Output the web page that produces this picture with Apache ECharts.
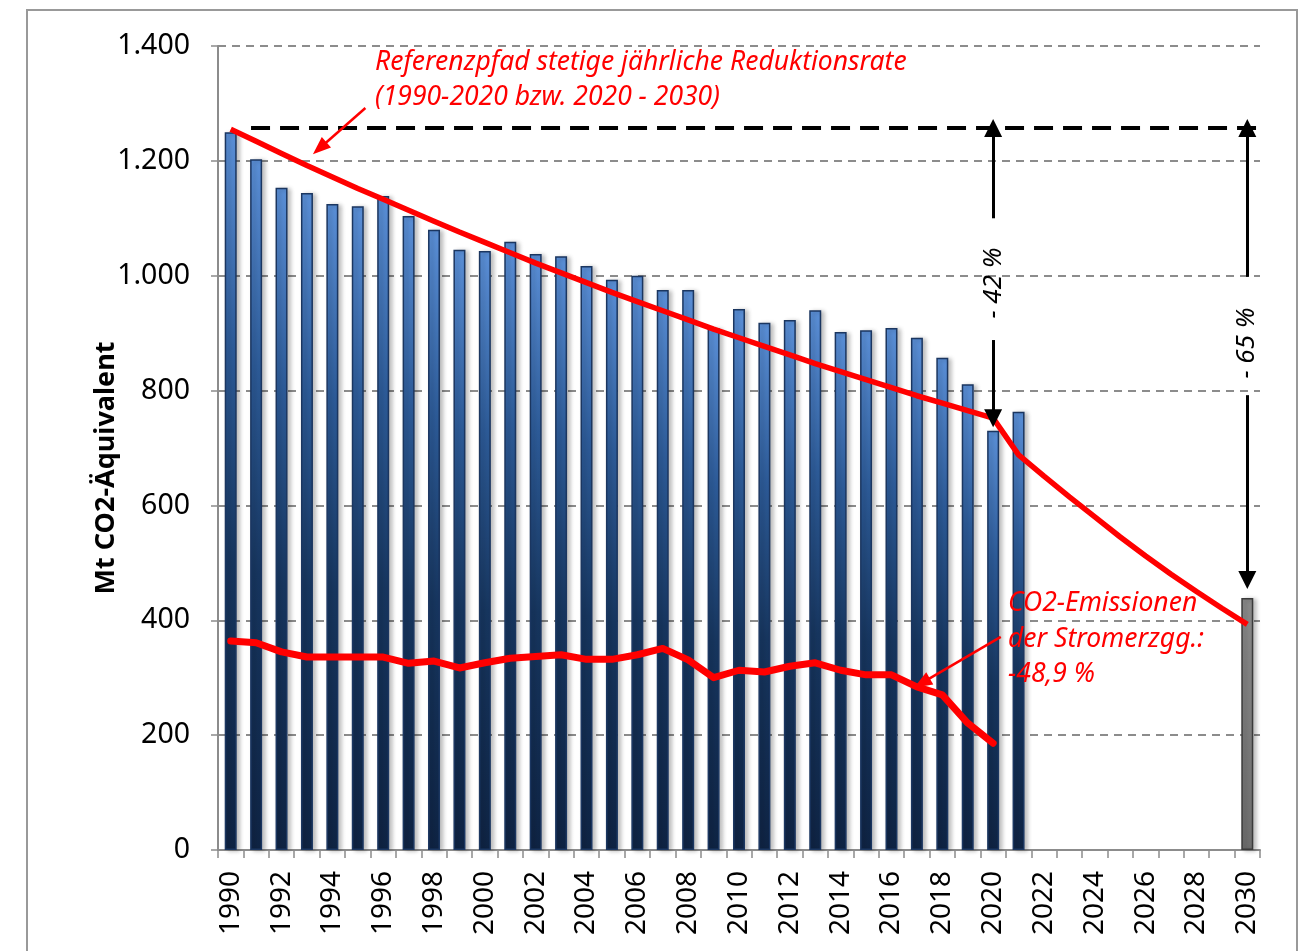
<!DOCTYPE html>
<html>
<head>
<meta charset="utf-8">
<script src="https://cdn.jsdelivr.net/npm/echarts@6/dist/echarts.min.js"></script>
<style>
html,body{margin:0;padding:0;background:#fff;}
#c{width:1307px;height:951px;}
</style>
</head>
<body>
<div id="c"></div>
<script>
// ---- data ----
const years = [];
for (let y = 1990; y <= 2030; y++) years.push(String(y));

// total emissions (Mt CO2-equivalent), 1990-2021, plus 2030 target
const emissions = [1250, 1203, 1153, 1144, 1125, 1121, 1139, 1104, 1080, 1045,
  1043, 1059, 1038, 1034, 1017, 993, 1000, 975, 975, 909,
  942, 918, 923, 940, 902, 905, 909, 892, 857, 811,
  730, 763];
const target2030 = 439;

// reference path (steady annual reduction rate), 1990-2030
const referencePath = [1255, 1234, 1213, 1192, 1172, 1152, 1133, 1114, 1095, 1076,
  1058, 1040, 1022, 1005, 988, 971, 955, 939, 923, 907,
  892, 877, 862, 847, 833, 819, 805, 791, 778, 765,
  752, 688, 651, 615, 580, 545, 512, 480, 450, 421,
  393];

// CO2 emissions of power generation, 1990-2020
const powerGen = [364, 361, 345, 336, 336, 336, 336, 325, 329, 317,
  326, 334, 337, 340, 332, 332, 340, 351, 331, 300,
  313, 310, 320, 326, 313, 305, 305, 284, 270, 221,
  186];

const yTicks = [0, 200, 400, 600, 800, 1000, 1200, 1400];
const baseLevel = 1257;

// ---- build series data ----
const barData = years.map((y, i) => {
  if (i < emissions.length) return emissions[i];
  if (y === '2030') return {
    value: target2030,
    itemStyle: {
      color: {type:'linear',x:0,y:0,x2:0,y2:1,colorStops:[{offset:0,color:'#8a8a8a'},{offset:1,color:'#6e6e6e'}]},
      borderColor: '#3a3a3a'
    }
  };
  return null;
});
const powerData = years.map((y, i) => i < powerGen.length ? powerGen[i] : null);

const chart = echarts.init(document.getElementById('c'), null, {renderer: 'canvas'});

const blk = {color:'#000', width:3, type:'solid'};
const redL = {color:'#ff0000', width:2.5, type:'solid'};
const redText = (t, x, y) => ({type: 'text', z: 100, x: x, y: y,
  style: {text: t, fontSize: 26.5, fontStyle: 'italic', fontFamily: 'Noto Sans',
    fill: '#ff0000', align: 'left', verticalAlign: 'middle'}});

chart.setOption({
  animation: false,
  backgroundColor: '#fff',
  grid: {left: 218, right: 47, top: 46, bottom: 101, containLabel: false},
  xAxis: [{
    type: 'category',
    data: years,
    boundaryGap: true,
    axisLine: {lineStyle: {color: '#8c8c8c', width: 2}},
    axisTick: {show: true, interval: 0, length: 8, lineStyle: {color: '#8c8c8c', width: 1.5}},
    axisLabel: {interval: 1, rotate: 90, margin: 21, color: '#000', fontSize: 28, fontFamily: 'Noto Sans'},
    splitLine: {show: false}
  }, {
    type: 'value', min: 1989.5, max: 2030.5, show: false
  }],
  yAxis: {
    type: 'value', min: 0, max: 1400, interval: 200,
    axisLine: {show: true, lineStyle: {color: '#8c8c8c', width: 2}},
    axisTick: {show: true, length: 7, lineStyle: {color: '#8c8c8c', width: 1.5}},
    axisLabel: {
      margin: 28, color: '#000', fontSize: 28.5, fontFamily: 'Noto Sans',
      formatter: v => String(v).replace(/\B(?=(\d{3})+(?!\d))/g, '.')
    },
    splitLine: {show: true, lineStyle: {color: '#8c8c8c', width: 2, type: [8, 6]}}
  },
  series: [{
    type: 'bar',
    data: barData,
    barWidth: 12,
    itemStyle: {
      color: {type:'linear',x:0,y:0,x2:0,y2:1,colorStops:[
        {offset:0,color:'#5b90d8'},{offset:0.3,color:'#2d5b98'},{offset:0.6,color:'#17365f'},{offset:1,color:'#0f2444'}]},
      borderColor: '#1b3660',
      borderWidth: 1.5,
      shadowColor: 'rgba(0,0,0,0.25)',
      shadowBlur: 4,
      shadowOffsetX: 3,
      shadowOffsetY: 1
    },
    z: 2
  }, {
    type: 'line',
    data: referencePath,
    symbol: 'none',
    lineStyle: {color: '#ff0000', width: 5.5},
    z: 4
  }, {
    type: 'line',
    data: powerData,
    symbol: 'none',
    lineStyle: {color: '#ff0000', width: 7, cap: 'round', join: 'round'},
    z: 4
  }, {
    type: 'scatter',
    xAxisIndex: 1,
    data: [[2000, -100]],
    symbolSize: 0,
    silent: true,
    z: 5,
    markLine: {
      silent: true,
      animation: false,
      label: {show: false},
      symbolSize: [18, 18],
      data: [
        [{coord: [1990.8, baseLevel], symbol: 'none', lineStyle: {color:'#000', width:4, type:[19,10]}},
         {coord: [2030.5, baseLevel], symbol: 'none'}],
        [{coord: [2020, 1100], symbol: 'none', lineStyle: blk},
         {coord: [2020, baseLevel], symbol: 'triangle', symbolSize: [18, 18]}],
        [{coord: [2020, 888], symbol: 'none', lineStyle: blk},
         {coord: [2020, 752], symbol: 'triangle', symbolSize: [18, 18]}],
        [{coord: [2030, 998], symbol: 'none', lineStyle: blk},
         {coord: [2030, baseLevel], symbol: 'triangle', symbolSize: [18, 18]}],
        [{coord: [2030, 792], symbol: 'none', lineStyle: blk},
         {coord: [2030, 470], symbol: 'triangle', symbolSize: [18, 18]}],
        [{coord: [1995.3, 1292], symbol: 'none', lineStyle: redL},
         {coord: [1993.5, 1222], symbol: 'triangle', symbolSize: [14, 18]}],
        [{coord: [2020.3, 371], symbol: 'none', lineStyle: redL},
         {coord: [2017.2, 291], symbol: 'triangle', symbolSize: [14, 18]}]
      ]
    }
  }],
  graphic: [
    {type: 'rect', silent: true, z: 100, shape: {x: 27, y: 10, width: 1270, height: 1000},
     style: {fill: 'none', stroke: '#999', lineWidth: 2}},
    {type: 'text', z: 100, x: 106, y: 468, rotation: Math.PI / 2,
     style: {text: 'Mt CO2-Äquivalent', fontSize: 27, fontWeight: 'bold', fontFamily: 'Noto Sans',
       fill: '#000', align: 'center', verticalAlign: 'middle'}},
    redText('Referenzpfad stetige jährliche Reduktionsrate', 375, 62),
    redText('(1990-2020 bzw. 2020 - 2030)', 375, 97),
    redText('CO2-Emissionen', 1008, 603),
    redText('der Stromerzgg.:', 1008, 639),
    redText('-48,9 %', 1008, 674),
    {type: 'text', z: 100, x: 994, y: 283, rotation: Math.PI / 2,
     style: {text: '- 42 %', fontSize: 26, fontStyle: 'italic',
       fontFamily: 'Noto Sans', fill: '#000', align: 'center', verticalAlign: 'middle'}},
    {type: 'text', z: 100, x: 1247, y: 343, rotation: Math.PI / 2,
     style: {text: '- 65 %', fontSize: 26, fontStyle: 'italic',
       fontFamily: 'Noto Sans', fill: '#000', align: 'center', verticalAlign: 'middle'}}
  ]
});
</script>
</body>
</html>
